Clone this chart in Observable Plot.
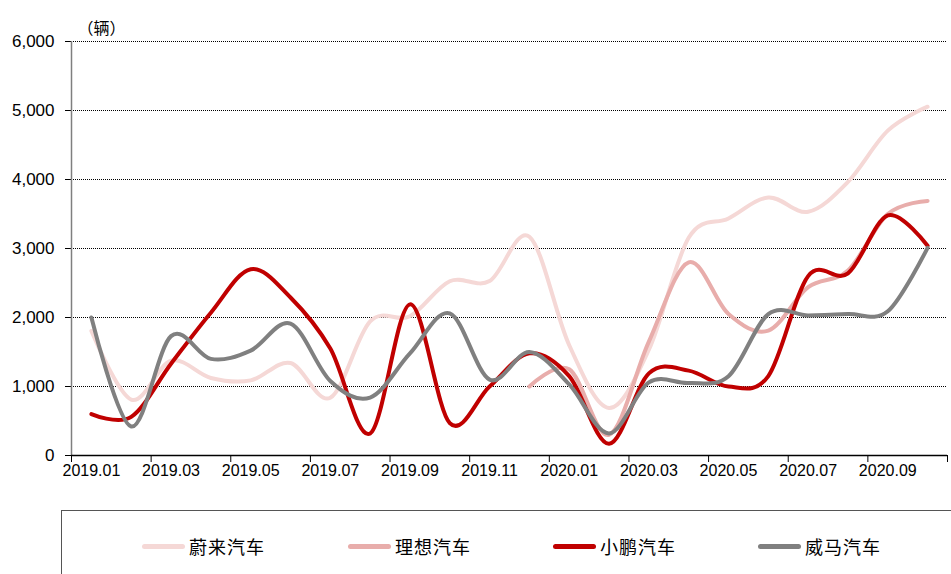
<!DOCTYPE html>
<html>
<head>
<meta charset="utf-8">
<script src="https://cdn.jsdelivr.net/npm/d3@7"></script>
<script src="https://cdn.jsdelivr.net/npm/@observablehq/plot@0.6"></script>
<style>
  html, body { margin: 0; padding: 0; background: #fff; }
  #wrap { position: relative; width: 951px; height: 574px; overflow: hidden; }
  #legend { position: absolute; left: 61px; top: 510px; width: 950px; height: 90px;
            border-left: 1px solid #555; border-top: 1px solid #555; box-sizing: border-box; }
  .item { position: absolute; top: 22px; display: flex; align-items: center;
          font-family: "Noto Sans CJK SC", sans-serif; font-size: 18px; color: #000; letter-spacing: 1px; }
  .sw { width: 43px; height: 5px; border-radius: 3px; margin-right: 4px; }
</style>
</head>
<body>
<div id="wrap"><div id="chart"></div><div id="legend"></div></div>
<script>
const months = ["2019.01","2019.02","2019.03","2019.04","2019.05","2019.06","2019.07","2019.08","2019.09","2019.10","2019.11","2019.12",
                "2020.01","2020.02","2020.03","2020.04","2020.05","2020.06","2020.07","2020.08","2020.09","2020.10"];
const seriesNames = ["蔚来汽车","理想汽车","小鹏汽车","威马汽车"];
const nio   = [1805, 811, 1373, 1124, 1089, 1340, 837, 1943, 2019, 2526, 2528, 3170, 1598, 690, 1533, 3155, 3436, 3740, 3533, 3965, 4708, 5055];
const li    = [null, null, null, null, null, null, null, null, null, null, null, 1000, 1250, 300, 1650, 2800, 2050, 1810, 2440, 2680, 3500, 3690];
const xpeng = [600, 560, 1330, 2070, 2700, 2290, 1550, 320, 2190, 470, 1000, 1480, 1150, 170, 1190, 1230, 1000, 1150, 2600, 2640, 3480, 3040];
const wm    = [2000, 420, 1730, 1400, 1520, 1910, 1080, 840, 1480, 2060, 1100, 1500, 1030, 320, 1060, 1050, 1150, 2050, 2030, 2050, 2090, 3010];
const yTicks = [0, 1000, 2000, 3000, 4000, 5000, 6000];
const colors = ["#F5D8D6", "#E8ADAB", "#C00000", "#808080"];

const values = [nio, li, xpeng, wm];
const data = [];
values.forEach((arr, s) => arr.forEach((v, i) => data.push({series: seriesNames[s], i, v})));

const labelTicks = d3.range(0, months.length, 2);
const boundaryTicks = d3.range(-0.5, months.length, 2).concat([months.length - 0.5]);

const chart = Plot.plot({
  width: 951,
  height: 500,
  marginLeft: 71,
  marginRight: 4,
  marginTop: 41,
  marginBottom: 45,
  style: {fontFamily: "'Liberation Sans', Arial, sans-serif", fontSize: "16px", color: "#000", background: "#fff"},
  x: {domain: [-0.5, months.length - 0.5], axis: null},
  y: {domain: [0, 6000], axis: null},
  color: {domain: seriesNames, range: colors},
  marks: [
    Plot.ruleY(yTicks.filter(d => d > 0), {stroke: "#000", strokeDasharray: "1,1", strokeWidth: 1}),
    Plot.axisY({ticks: yTicks, tickFormat: d3.format(","), tickSize: 6, tickPadding: 11, fontSize: 17, stroke: "#000", label: null}),
    Plot.axisX({ticks: boundaryTicks, tickFormat: () => "", tickSize: 7, stroke: "#000", label: null}),
    Plot.axisX({ticks: labelTicks, tickFormat: i => months[i], tickSize: 0, tickPadding: 9, fontSize: 16, label: null}),
    Plot.ruleX([-0.5], {stroke: "#7f7f7f", strokeWidth: 1.5}),
    Plot.ruleY([0], {stroke: "#000", strokeWidth: 1.5}),
    Plot.line(data, {x: "i", y: "v", z: "series", stroke: "series", strokeWidth: 4, curve: "cardinal", strokeLinecap: "round", strokeLinejoin: "round"}),
    Plot.text(["（辆）"], {frameAnchor: "top-left", dx: 6, dy: -19, textAnchor: "start", fontSize: 16, fontFamily: "'Noto Sans CJK SC', sans-serif"})
  ]
});
document.getElementById("chart").appendChild(chart);

const legend = document.getElementById("legend");
const lefts = [80, 286, 491, 696];
seriesNames.forEach((name, k) => {
  const it = document.createElement("div");
  it.className = "item";
  it.style.left = lefts[k] + "px";
  it.innerHTML = `<span class="sw" style="background:${colors[k]}"></span><span>${name}</span>`;
  legend.appendChild(it);
});
</script>
</body>
</html>
